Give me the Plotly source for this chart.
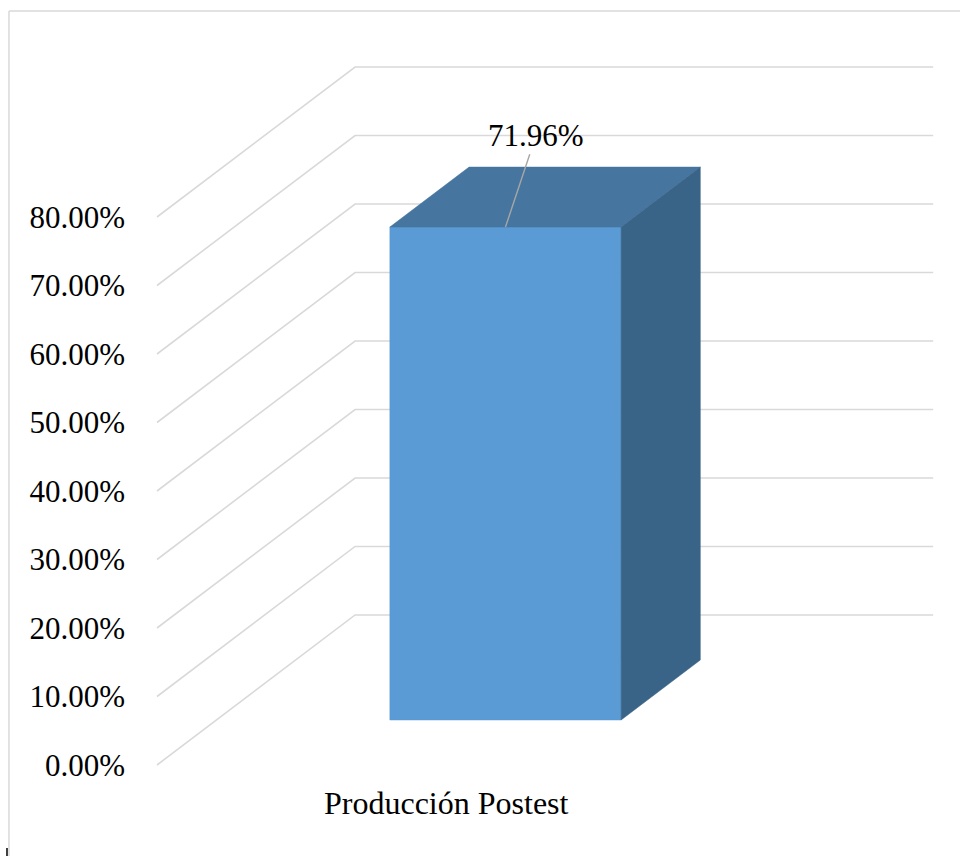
import plotly.graph_objects as go

# Data
categories = ["Producción Postest"]
values = [71.96]
y_ticks = [0, 10, 20, 30, 40, 50, 60, 70, 80]
y_tick_labels = [f"{v:.2f}%" for v in y_ticks]

# Oblique 3-D projection settings (x in category units, y in percent)
DX = 0.3426        # horizontal shift of the back wall
DY = 21.9          # vertical shift of the back wall (percent units)
BAR_W = 0.40       # bar width in category units
D0, D1 = 0.3, 0.7  # bar front / back depth
GRID = "#D9D9D9"
FRONT = "#5B9BD5"
TOP = "#46759F"
SIDE = "#3A6388"
FONT = "Liberation Serif"
FSIZE = 31
CAT_FSIZE = 32


def proj(x, v, d):
    return x + d * DX, v + d * DY


fig = go.Figure()

# Gridlines: diagonal on the side wall, horizontal on the back wall
for v in y_ticks:
    pts = [proj(0, v, 0), proj(0, v, 1), proj(1, v, 1)]
    fig.add_trace(go.Scatter(x=[p[0] for p in pts], y=[p[1] for p in pts],
                             mode="lines", line=dict(color=GRID, width=1.6),
                             hoverinfo="skip", showlegend=False))


def face(pts, color):
    xs = [p[0] for p in pts] + [pts[0][0]]
    ys = [p[1] for p in pts] + [pts[0][1]]
    fig.add_trace(go.Scatter(x=xs, y=ys, mode="lines", fill="toself",
                             fillcolor=color, line=dict(color=color, width=0.5),
                             hoverinfo="skip", showlegend=False))


for i, (cat, val) in enumerate(zip(categories, values)):
    c = i + 0.5
    x0, x1 = c - BAR_W / 2, c + BAR_W / 2
    face([proj(x0, 0, D0), proj(x1, 0, D0), proj(x1, val, D0), proj(x0, val, D0)], FRONT)
    face([proj(x0, val, D0), proj(x1, val, D0), proj(x1, val, D1), proj(x0, val, D1)], TOP)
    face([proj(x1, 0, D0), proj(x1, val, D0), proj(x1, val, D1), proj(x1, 0, D1)], SIDE)

    # Value label with leader line
    ax_, ay_ = proj(c, val, D0)
    fig.add_annotation(x=ax_, y=ay_, ax=ax_ + 0.053, ay=ay_ + 13.4,
                       axref="x", ayref="y", xref="x", yref="y",
                       text=f"{val:.2f}%", showarrow=True, arrowhead=0,
                       arrowwidth=1.4, arrowcolor="#A6A6A6", standoff=0,
                       font=dict(family=FONT, size=FSIZE, color="#000000"))

    # Category label, just under the floor's front edge
    fig.add_annotation(x=c, y=-0.004, xref="x", yref="paper", text=cat,
                       showarrow=False, yanchor="middle",
                       font=dict(family=FONT, size=CAT_FSIZE, color="#000000"))

# Chart frame (left and top edges)
fig.add_shape(type="line", xref="paper", yref="paper",
              x0=-0.1598, y0=-0.08, x1=-0.1598, y1=1.0115,
              line=dict(color="#D9D9D9", width=1.5))
fig.add_shape(type="line", xref="paper", yref="paper",
              x0=-0.1598, y0=1.0115, x1=1.02, y1=1.0115,
              line=dict(color="#D9D9D9", width=1.5))
fig.add_shape(type="line", xref="paper", yref="paper",
              x0=-0.1622, y0=-0.0615, x1=-0.1622, y1=-0.072,
              line=dict(color="#000000", width=1.5))

fig.update_layout(
    width=960, height=856,
    margin=dict(l=140, r=0, t=20, b=56),
    paper_bgcolor="white", plot_bgcolor="white",
    xaxis=dict(range=[-0.0294, 1.389], visible=False, fixedrange=True),
    yaxis=dict(range=[-5.11, 108.76], tickvals=y_ticks, ticktext=y_tick_labels,
               showgrid=False, zeroline=False, showline=False,
               ticks="", ticklabelstandoff=14,
               tickfont=dict(family=FONT, size=FSIZE, color="#000000")),
    showlegend=False,
)

fig.write_html("out.html")
